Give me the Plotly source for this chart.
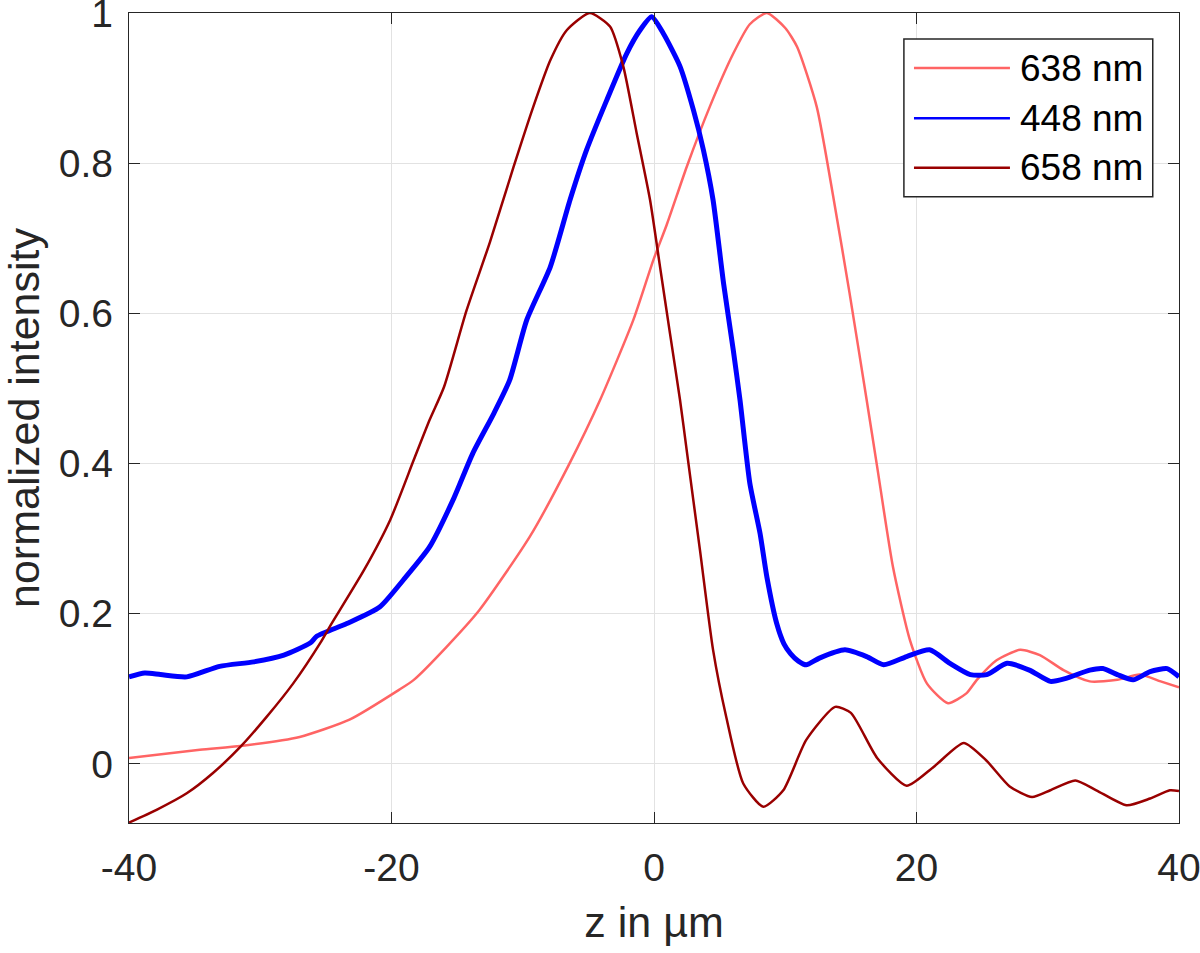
import plotly.graph_objects as go

# --------------------------------------------------------------
# values
labels = ['638 nm', '448 nm', '658 nm']
colors = ['#ff6464', '#0000ff', '#990000']

z_638 = [-40, -34.6, -31.5, -27.0, -23.2, -19.4, -18.3, -15.8, -13.3, -9.45, -6.5, -4.1, -1.58, -0.05,
         0.97, 2.49, 4.27, 6.04, 7.3, 8.6, 10.0, 10.9, 12.4, 13.7, 14.9, 16.2, 17.0, 18.2, 19.5,
         20.8, 22.4, 23.8, 24.6, 26.1, 27.9, 29.4, 31.2, 33.2, 35.3, 37.0, 38.6, 40]
i_638 = [0.008, 0.019, 0.024, 0.036, 0.059, 0.099, 0.112, 0.156, 0.205, 0.303, 0.398, 0.485, 0.591, 0.671,
         0.718, 0.795, 0.876, 0.946, 0.985, 1.0, 0.98, 0.955, 0.875, 0.751, 0.627, 0.485, 0.396, 0.263, 0.165,
         0.107, 0.081, 0.094, 0.112, 0.138, 0.152, 0.145, 0.125, 0.110, 0.112, 0.119, 0.110, 0.102]

z_448 = [-40, -38.8, -37.6, -35.6, -33.1, -30.5, -28.2, -26.2, -25.7, -23.4, -20.9, -19.1, -17.1,
         -15.3, -13.8, -12.2, -11.0, -9.7, -7.9, -6.4, -5.13, -3.6, -2.08, -1.07, -0.18, 0.7, 1.98,
         3.0, 3.76, 4.5, 5.3, 6.04, 6.55, 7.3, 8.08, 8.6, 9.35, 9.9, 10.4, 11.0, 11.6, 12.6, 14.55, 16.2, 17.5,
         19.25, 21.0, 22.55, 24.1, 25.35, 26.9, 28.6, 30.2, 31.4, 33.2, 34.2, 35.3, 36.5, 37.8, 39.1, 40]
i_448 = [0.116, 0.121, 0.119, 0.116, 0.130, 0.136, 0.145, 0.161, 0.170, 0.187, 0.209, 0.245, 0.289,
         0.352, 0.414, 0.467, 0.511, 0.591, 0.662, 0.751, 0.818, 0.884, 0.946, 0.977, 0.995, 0.973, 0.929,
         0.871, 0.818, 0.751, 0.640, 0.551, 0.485, 0.374, 0.307, 0.249, 0.187, 0.160, 0.147, 0.137, 0.132, 0.141, 0.152, 0.143, 0.132,
         0.143, 0.152, 0.134, 0.119, 0.119, 0.134, 0.125, 0.110, 0.114, 0.125, 0.127, 0.119, 0.112, 0.123, 0.127, 0.116]

z_658 = [-40, -37.9, -35.6, -33.6, -31.5, -29.5, -27.5, -25.4, -24.7, -22.1, -20.1, -18.3, -17.1,
         -16.0, -14.3, -12.5, -10.7, -9.2, -7.9, -6.65, -4.9, -3.35, -2.34, -1.32, -0.3, 0.46, 1.22,
         1.98, 2.49, 3.5, 4.5, 5.5, 6.8, 8.33, 9.85, 11.6, 13.8, 15.0, 17.0, 19.25, 21.3, 23.6, 25.3,
         27.1, 28.8, 30.2, 32.1, 33.7, 36.0, 37.8, 39.3, 40]
i_658 = [-0.078, -0.061, -0.039, -0.012, 0.023, 0.063, 0.107, 0.162, 0.183, 0.258, 0.325, 0.405, 0.458,
         0.502, 0.603, 0.695, 0.795, 0.875, 0.937, 0.977, 1.0, 0.982, 0.929, 0.840, 0.751, 0.662, 0.573,
         0.485, 0.418, 0.285, 0.152, 0.063, -0.026, -0.057, -0.035, 0.032, 0.076, 0.068, 0.008, -0.029, -0.004, 0.028, 0.005,
         -0.030, -0.044, -0.035, -0.022, -0.035, -0.055, -0.046, -0.035, -0.036]

x_ticks = [-40, -20, 0, 20, 40]
x_tick_text = ['-40', '-20', '0', '20', '40']
y_ticks = [0, 0.2, 0.4, 0.6, 0.8, 1]
y_tick_text = ['0', '0.2', '0.4', '0.6', '0.8', '1']

axis_col = '#262626'
font = 'Liberation Sans, Arial, sans-serif'

# --------------------------------------------------------------
fig = go.Figure()
series = [(z_638, i_638, 2.5), (z_448, i_448, 5), (z_658, i_658, 2.5)]
for (z, v, w), name, col in zip(series, labels, colors):
    fig.add_trace(go.Scatter(x=z, y=v, mode='lines', name=name,
                             line=dict(color=col, width=w, shape='spline', smoothing=0.6)))

fig.update_layout(
    width=1200, height=953,
    margin=dict(l=129, r=21, t=13, b=130),
    paper_bgcolor='white', plot_bgcolor='white',
    font=dict(family=font, size=39, color=axis_col),
    showlegend=False,
)
fig.update_xaxes(range=[-40, 40], tickvals=x_ticks, ticktext=x_tick_text, ticks='inside', ticklen=11,
                 tickcolor=axis_col, showline=True, linecolor=axis_col, linewidth=1.3, mirror='ticks',
                 showgrid=True, gridcolor='#e2e2e2', gridwidth=1.3, zeroline=False,
                 ticklabelstandoff=10, ticklabeloverflow='allow', automargin=False,
                 title=dict(text='z in µm', font=dict(size=43), standoff=18))
fig.update_yaxes(range=[-0.0786, 1], tickvals=y_ticks, ticktext=y_tick_text, ticks='inside', ticklen=11,
                 tickcolor=axis_col, showline=True, linecolor=axis_col, linewidth=1.3, mirror='ticks',
                 showgrid=True, gridcolor='#e2e2e2', gridwidth=1.3, zeroline=False,
                 ticklabelstandoff=7, ticklabeloverflow='allow', automargin=False,
                 title=dict(text='normalized intensity', font=dict(size=43), standoff=11))

# legend box drawn by hand so the line samples are as long as in the original
fig.add_shape(type='rect', xref='paper', yref='paper', x0=0.738, x1=0.975, y0=0.773, y1=0.968,
              line=dict(color=axis_col, width=1.5), fillcolor='white', layer='above')
row_y = [0.932, 0.870, 0.809]
for name, col, yy in zip(labels, colors, row_y):
    fig.add_shape(type='line', xref='paper', yref='paper', x0=0.7476, x1=0.839, y0=yy, y1=yy,
                  line=dict(color=col, width=2.5), layer='above')
    fig.add_annotation(xref='paper', yref='paper', x=0.8467, y=yy, text=name, showarrow=False,
                       xanchor='left', yanchor='middle', font=dict(size=37, color='black'))

# drop the default 8px page margin so the figure sits at the window's corner
fig.write_html('out.html', config={'displayModeBar': False},
               post_script="document.body.style.margin = '0';")
